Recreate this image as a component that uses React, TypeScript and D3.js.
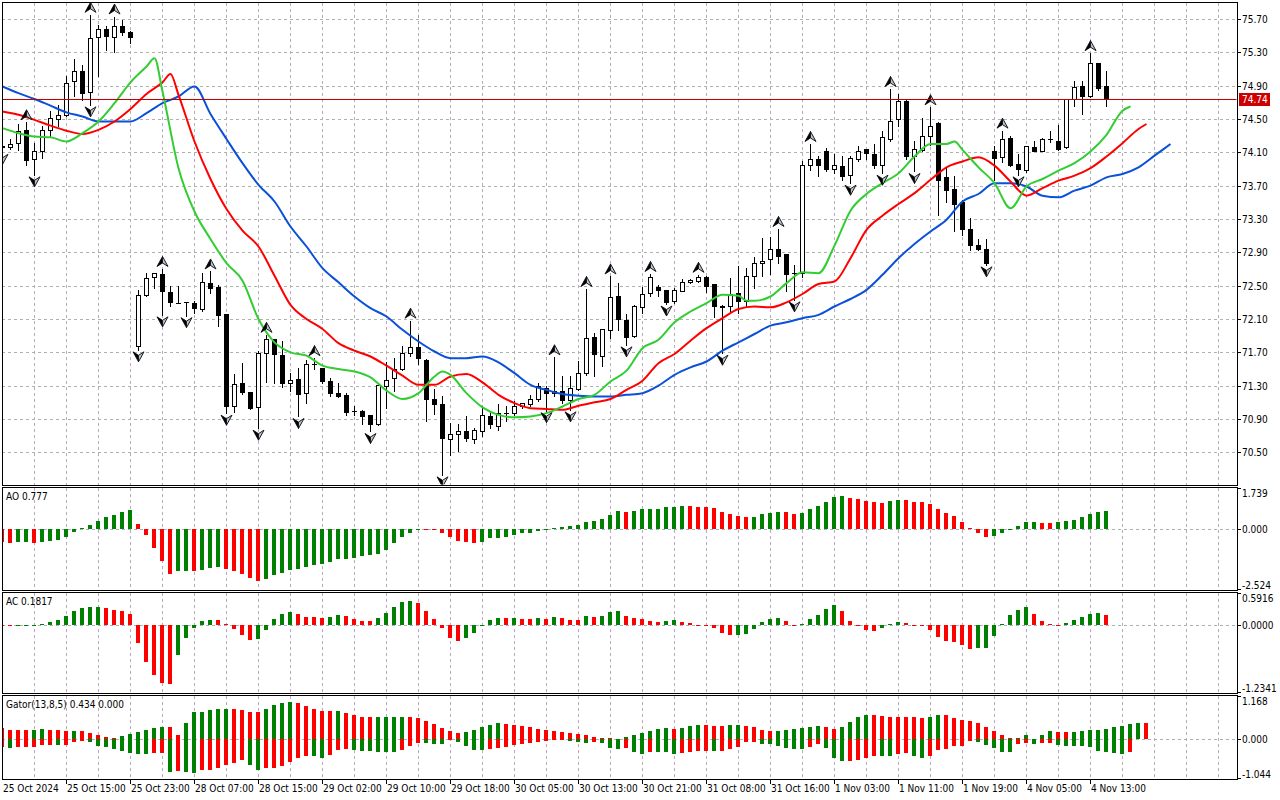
import React, { useEffect, useRef } from 'react';
import * as d3 from 'd3';

// hourly bars, 25 Oct 2024 07:00 .. 4 Nov 2024 15:00
const opens = [
  74.18, 74.16, 74.21, 74.37, 74.02, 74.11, 74.37, 74.50, 74.55, 74.96,
  75.08, 74.82, 75.48, 75.58, 75.48, 75.62, 75.54, 71.77, 72.39, 72.60,
  72.64, 72.42, 72.29, 72.30, 72.29, 72.22, 72.53, 72.48, 72.16, 71.05,
  71.33, 71.22, 71.04, 71.69, 71.86, 71.67, 71.33, 71.38, 71.21, 71.56,
  71.51, 71.36, 71.21, 71.19, 70.99, 70.99, 70.95, 70.84, 71.30, 71.39,
  71.50, 71.69, 71.76, 71.61, 71.14, 71.08, 70.66, 70.72, 70.75, 70.66,
  70.76, 70.93, 70.81, 70.97, 70.97, 71.06, 71.08, 71.14, 71.27, 71.21,
  71.23, 71.13, 71.26, 71.45, 71.88, 71.66, 71.97, 72.38, 72.09, 71.89,
  72.24, 72.41, 72.48, 72.45, 72.31, 72.44, 72.54, 72.56, 72.60, 72.52,
  72.26, 72.25, 72.41, 72.31, 72.62, 72.77, 72.82, 72.94, 72.88, 72.65,
  72.65, 73.95, 74.02, 74.11, 73.90, 73.93, 73.83, 74.02, 74.14, 74.08,
  73.95, 74.26, 74.50, 74.71, 74.06, 74.13, 74.30, 74.45, 73.80, 73.66,
  73.50, 73.18, 72.99, 72.94, 74.12, 74.04, 74.27, 73.96, 73.89, 74.16,
  74.12, 74.26, 74.24, 74.16, 74.74, 74.90, 74.77, 75.17, 74.90,
];
const highs = [
  74.22, 74.26, 74.44, 74.46, 74.21, 74.41, 74.59, 74.67, 75.01, 75.22,
  75.15, 75.75, 75.63, 75.62, 75.73, 75.69, 75.55, 72.45, 72.65, 72.65,
  72.70, 72.50, 72.50, 72.30, 72.31, 72.65, 72.67, 72.51, 72.16, 71.44,
  71.57, 71.22, 71.72, 71.91, 71.86, 71.83, 71.45, 71.51, 71.61, 71.63,
  71.51, 71.39, 71.33, 71.21, 71.05, 71.01, 70.95, 71.33, 71.58, 71.63,
  71.77, 72.08, 71.91, 71.62, 71.26, 71.17, 70.85, 70.84, 70.94, 70.79,
  71.06, 70.99, 71.08, 71.05, 71.11, 71.09, 71.19, 71.33, 71.30, 71.64,
  71.41, 71.41, 71.59, 72.46, 71.93, 71.98, 72.61, 72.53, 72.16, 72.27,
  72.48, 72.64, 72.51, 72.45, 72.47, 72.58, 72.58, 72.63, 72.61, 72.52,
  72.27, 72.59, 72.73, 72.71, 72.84, 73.07, 73.08, 73.18, 72.88, 72.75,
  74.00, 74.20, 74.05, 74.15, 74.08, 74.05, 74.06, 74.17, 74.14, 74.20,
  74.35, 74.86, 74.80, 74.74, 74.23, 74.51, 74.64, 74.46, 73.91, 73.81,
  73.53, 73.31, 73.06, 73.06, 74.17, 74.36, 74.29, 74.08, 74.18, 74.23,
  74.27, 74.36, 74.43, 74.74, 74.96, 74.96, 75.29, 75.17, 75.08,
];
const lows = [
  74.10, 74.14, 74.13, 73.95, 73.83, 74.03, 74.29, 74.41, 74.53, 74.77,
  74.73, 74.67, 75.02, 75.33, 75.30, 75.51, 75.41, 71.73, 72.37, 72.47,
  72.15, 72.25, 72.29, 72.14, 72.17, 72.20, 72.41, 72.01, 70.97, 70.98,
  71.20, 71.02, 70.79, 71.34, 71.33, 71.28, 71.23, 70.93, 71.09, 71.50,
  71.33, 71.17, 71.16, 70.95, 70.95, 70.84, 70.75, 70.83, 71.03, 71.23,
  71.49, 71.65, 71.56, 70.88, 70.96, 70.23, 70.47, 70.52, 70.63, 70.61,
  70.69, 70.79, 70.77, 70.88, 70.95, 71.03, 71.06, 71.11, 71.00, 71.17,
  71.09, 71.01, 71.25, 71.43, 71.42, 71.53, 71.87, 71.97, 71.79, 71.88,
  72.17, 72.37, 72.38, 72.28, 72.29, 72.43, 72.53, 72.54, 72.42, 72.12,
  71.69, 72.17, 72.17, 72.26, 72.47, 72.61, 72.64, 72.77, 72.43, 72.33,
  72.60, 73.89, 73.81, 73.87, 73.85, 73.77, 73.73, 74.00, 74.02, 73.91,
  73.85, 74.24, 74.41, 74.02, 73.87, 74.11, 74.19, 73.35, 73.50, 73.16,
  73.11, 72.93, 72.93, 72.75, 73.77, 73.98, 73.93, 73.83, 73.86, 74.11,
  74.11, 74.22, 74.13, 74.15, 74.65, 74.56, 74.76, 74.85, 74.65,
];
const closes = [
  74.16, 74.20, 74.35, 74.01, 74.11, 74.37, 74.51, 74.55, 74.93, 75.08,
  74.81, 75.47, 75.58, 75.50, 75.61, 75.54, 75.48, 72.39, 72.59, 72.65,
  72.43, 72.30, 72.29, 72.30, 72.23, 72.54, 72.47, 72.15, 71.06, 71.32,
  71.22, 71.03, 71.69, 71.86, 71.68, 71.33, 71.37, 71.20, 71.56, 71.56,
  71.35, 71.21, 71.18, 70.98, 70.99, 70.94, 70.84, 71.31, 71.37, 71.50,
  71.69, 71.76, 71.63, 71.14, 71.08, 70.67, 70.72, 70.75, 70.67, 70.77,
  70.95, 70.84, 70.97, 70.97, 71.05, 71.09, 71.14, 71.30, 71.21, 71.24,
  71.13, 71.27, 71.45, 71.87, 71.68, 71.98, 72.36, 72.10, 71.88, 72.25,
  72.40, 72.60, 72.45, 72.30, 72.45, 72.54, 72.57, 72.60, 72.50, 72.25,
  72.24, 72.40, 72.31, 72.62, 72.77, 72.80, 72.94, 72.86, 72.64, 72.65,
  73.95, 74.02, 73.95, 73.90, 73.95, 73.82, 74.03, 74.12, 74.09, 73.95,
  74.28, 74.48, 74.72, 74.05, 74.14, 74.30, 74.41, 73.77, 73.65, 73.48,
  73.18, 72.99, 72.94, 72.77, 74.03, 74.26, 73.95, 73.90, 74.17, 74.12,
  74.26, 74.26, 74.14, 74.74, 74.88, 74.78, 75.17, 74.87, 74.74,
];

// bars carrying a fractal arrow
const fractalUp = [3, 11, 14, 20, 26, 33, 39, 51, 69, 73, 76, 81, 87, 97, 101, 111, 116, 125, 136];
const fractalDown = [0, 4, 11, 17, 20, 23, 28, 32, 37, 46, 55, 68, 71, 78, 83, 90, 99, 106, 110, 114, 123, 127];

// alligator lines, [bar, price] (already shifted forward)
const jaw: [number, number][] = [
  [0, 74.89], [2, 74.81], [4, 74.74], [6, 74.66], [8, 74.58], [10, 74.53], [12, 74.47], [14, 74.47],
  [16, 74.47], [18, 74.57], [20, 74.69], [22, 74.77], [24, 74.89], [26, 74.56], [28, 74.26], [30, 73.97],
  [32, 73.71], [34, 73.51], [36, 73.21], [38, 72.97], [40, 72.71], [42, 72.54], [44, 72.37], [46, 72.23],
  [48, 72.13], [50, 71.97], [52, 71.83], [54, 71.71], [56, 71.63], [58, 71.63], [60, 71.65], [62, 71.58],
  [64, 71.45], [66, 71.31], [68, 71.25], [70, 71.20], [72, 71.18], [74, 71.17], [76, 71.17], [78, 71.19],
  [80, 71.21], [82, 71.30], [84, 71.43], [86, 71.52], [88, 71.59], [90, 71.72], [92, 71.82], [94, 71.92],
  [96, 72.02], [98, 72.06], [100, 72.11], [102, 72.15], [104, 72.25], [106, 72.34], [108, 72.45], [110, 72.63],
  [112, 72.83], [114, 73.00], [116, 73.15], [118, 73.29], [120, 73.51], [122, 73.60], [124, 73.73], [126, 73.73],
  [128, 73.69], [130, 73.58], [132, 73.56], [134, 73.64], [136, 73.70], [138, 73.80], [140, 73.84], [142, 73.92],
  [144, 74.06], [146, 74.20],
];
const teeth: [number, number][] = [
  [0, 74.59], [2, 74.55], [4, 74.49], [6, 74.42], [8, 74.36], [10, 74.32], [12, 74.37], [14, 74.47],
  [16, 74.62], [18, 74.80], [20, 74.94], [21, 75.04], [22, 74.79], [24, 74.23], [26, 73.78], [28, 73.42],
  [30, 73.16], [32, 72.97], [34, 72.62], [36, 72.27], [38, 72.10], [40, 71.98], [42, 71.81], [44, 71.72],
  [46, 71.65], [48, 71.54], [50, 71.42], [52, 71.31], [54, 71.31], [56, 71.41], [58, 71.44], [60, 71.34],
  [62, 71.19], [64, 71.09], [66, 71.03], [68, 71.02], [70, 71.01], [72, 71.06], [74, 71.10], [76, 71.14],
  [78, 71.25], [80, 71.36], [82, 71.57], [84, 71.68], [86, 71.84], [88, 71.99], [90, 72.11], [92, 72.22],
  [94, 72.25], [96, 72.24], [98, 72.30], [100, 72.40], [102, 72.52], [104, 72.55], [106, 72.83], [108, 73.17],
  [110, 73.34], [112, 73.48], [114, 73.61], [116, 73.77], [118, 73.92], [120, 73.99], [122, 74.04], [124, 73.94],
  [126, 73.75], [128, 73.58], [130, 73.67], [132, 73.76], [134, 73.82], [136, 73.91], [138, 74.05], [140, 74.21],
  [142, 74.38], [143, 74.44],
];
const lips: [number, number][] = [
  [0, 74.39], [2, 74.33], [4, 74.29], [6, 74.28], [8, 74.23], [10, 74.33], [12, 74.47], [14, 74.69],
  [16, 74.94], [18, 75.13], [19, 75.23], [20, 74.83], [22, 73.91], [24, 73.39], [26, 73.06], [28, 72.77],
  [30, 72.56], [32, 72.10], [34, 71.82], [36, 71.70], [38, 71.66], [40, 71.54], [42, 71.50], [44, 71.47],
  [46, 71.40], [48, 71.24], [50, 71.14], [52, 71.21], [54, 71.41], [55, 71.47], [56, 71.43], [58, 71.21],
  [60, 71.04], [62, 70.95], [64, 70.92], [66, 70.93], [68, 70.97], [70, 71.05], [72, 71.14], [74, 71.19],
  [76, 71.35], [78, 71.48], [80, 71.75], [82, 71.85], [84, 72.06], [86, 72.19], [88, 72.29], [90, 72.39],
  [92, 72.38], [93, 72.32], [94, 72.32], [96, 72.37], [98, 72.53], [100, 72.66], [102, 72.65], [104, 72.98],
  [106, 73.40], [108, 73.60], [110, 73.73], [112, 73.85], [114, 74.05], [116, 74.20], [118, 74.20], [119, 74.23],
  [120, 74.13], [122, 73.92], [124, 73.73], [126, 73.43], [128, 73.69], [130, 73.78], [132, 73.88], [134, 73.97],
  [136, 74.11], [138, 74.31], [140, 74.60], [141, 74.65],
];

const aoValues = [
  -0.56, -0.58, -0.53, -0.52, -0.58, -0.53, -0.49, -0.44, -0.32, -0.10,
  0.06, 0.18, 0.35, 0.52, 0.62, 0.73, 0.82, 0.22, -0.24, -0.79,
  -1.35, -1.88, -1.76, -1.75, -1.77, -1.72, -1.65, -1.60, -1.69, -1.77,
  -1.88, -2.05, -2.18, -2.11, -1.94, -1.84, -1.73, -1.66, -1.60, -1.53,
  -1.46, -1.38, -1.27, -1.24, -1.20, -1.15, -1.08, -1.03, -0.89, -0.60,
  -0.35, -0.14, -0.01, -0.015, -0.02, -0.14, -0.31, -0.49, -0.56, -0.60,
  -0.52, -0.39, -0.37, -0.31, -0.24, -0.18, -0.14, -0.06, -0.01, 0.04,
  0.08, 0.13, 0.17, 0.31, 0.35, 0.44, 0.59, 0.77, 0.73, 0.775,
  0.84, 0.845, 0.86, 0.94, 0.945, 0.98, 0.975, 0.94, 0.935, 0.90,
  0.73, 0.65, 0.56, 0.52, 0.525, 0.65, 0.70, 0.73, 0.725, 0.65,
  0.70, 0.86, 0.98, 1.15, 1.36, 1.41, 1.32, 1.28, 1.20, 1.15,
  1.11, 1.20, 1.24, 1.235, 1.15, 1.145, 1.07, 0.86, 0.69, 0.56,
  0.31, 0.04, -0.14, -0.31, -0.27, -0.14, -0.01, 0.14, 0.31, 0.315,
  0.27, 0.265, 0.31, 0.35, 0.39, 0.52, 0.65, 0.72, 0.777,
];
const acValues = [
  -0.01, -0.012, -0.008, -0.006, -0.004, 0.02, 0.05, 0.09, 0.17, 0.26,
  0.32, 0.33, 0.335, 0.32, 0.28, 0.26, 0.20, -0.33, -0.68, -0.92,
  -1.06, -1.08, -0.55, -0.23, -0.05, 0.07, 0.10, 0.09, 0.02, -0.08,
  -0.18, -0.28, -0.25, -0.09, 0.12, 0.20, 0.24, 0.21, 0.15, 0.14,
  0.135, 0.155, 0.18, 0.17, 0.105, 0.08, 0.075, 0.135, 0.22, 0.34,
  0.43, 0.45, 0.41, 0.26, 0.12, -0.06, -0.23, -0.30, -0.23, -0.15,
  -0.01, 0.10, 0.135, 0.13, 0.135, 0.115, 0.11, 0.135, 0.115, 0.155,
  0.135, 0.10, 0.095, 0.17, 0.155, 0.17, 0.245, 0.265, 0.17, 0.135,
  0.115, 0.08, 0.06, 0.08, 0.085, 0.06, 0.045, 0.005, -0.002, -0.05,
  -0.14, -0.18, -0.178, -0.16, -0.065, 0.06, 0.12, 0.135, 0.08, 0.01,
  0.015, 0.12, 0.19, 0.30, 0.375, 0.265, 0.08, -0.025, -0.085, -0.105,
  -0.06, 0.025, 0.06, 0.045, -0.005, -0.025, -0.085, -0.215, -0.29, -0.305,
  -0.36, -0.435, -0.43, -0.415, -0.195, 0.025, 0.19, 0.28, 0.34, 0.21,
  0.08, 0.025, 0.002, 0.045, 0.10, 0.155, 0.21, 0.225, 0.1817,
];
const gatorUpper = [
  0.31, 0.25, 0.248, 0.245, 0.25, 0.28, 0.25, 0.248, 0.222, 0.226,
  0.224, 0.18, 0.117, 0.063, 0.027, 0.08, 0.135, 0.20, 0.25, 0.305,
  0.325, 0.32, 0.117, 0.43, 0.74, 0.745, 0.79, 0.81, 0.82, 0.815,
  0.79, 0.74, 0.735, 0.82, 0.92, 0.97, 1.007, 0.97, 0.90, 0.83,
  0.765, 0.76, 0.765, 0.72, 0.66, 0.60, 0.59, 0.595, 0.60, 0.602,
  0.605, 0.60, 0.575, 0.495, 0.41, 0.305, 0.225, 0.17, 0.20, 0.25,
  0.33, 0.385, 0.44, 0.41, 0.385, 0.36, 0.33, 0.28, 0.25, 0.225,
  0.20, 0.17, 0.145, 0.117, 0.063, 0.036, 0.027, 0.005, 0.063, 0.117,
  0.17, 0.225, 0.28, 0.305, 0.28, 0.305, 0.36, 0.385, 0.383, 0.36,
  0.358, 0.385, 0.387, 0.36, 0.33, 0.25, 0.225, 0.226, 0.25, 0.28,
  0.305, 0.33, 0.36, 0.33, 0.28, 0.33, 0.467, 0.60, 0.655, 0.65,
  0.63, 0.60, 0.598, 0.597, 0.596, 0.575, 0.60, 0.655, 0.65, 0.575,
  0.52, 0.495, 0.44, 0.33, 0.225, 0.117, 0.036, 0.04, 0.117, 0.004,
  0.117, 0.225, 0.20, 0.198, 0.202, 0.225, 0.25, 0.252, 0.28, 0.32,
  0.35, 0.42, 0.44, 0.434,
];
const gatorLower = [
  -0.21, -0.225, -0.207, -0.205, -0.204, -0.153, -0.152, -0.155, -0.15, -0.07,
  -0.04, -0.072, -0.18, -0.207, -0.27, -0.315, -0.37, -0.387, -0.405, -0.378,
  -0.36, -0.88, -0.855, -0.88, -0.90, -0.84, -0.83, -0.78, -0.69, -0.63,
  -0.57, -0.69, -0.84, -0.78, -0.765, -0.73, -0.62, -0.495, -0.45, -0.455,
  -0.495, -0.425, -0.30, -0.27, -0.297, -0.315, -0.316, -0.333, -0.335, -0.34,
  -0.29, -0.18, -0.10, -0.105, -0.126, -0.128, -0.005, -0.072, -0.18, -0.29,
  -0.292, -0.26, -0.234, -0.207, -0.153, -0.126, -0.10, -0.072, -0.045, -0.004,
  -0.003, -0.045, -0.072, -0.10, -0.072, -0.10, -0.234, -0.26, -0.234, -0.34,
  -0.395, -0.34, -0.342, -0.345, -0.395, -0.37, -0.34, -0.315, -0.313, -0.316,
  -0.31, -0.26, -0.207, -0.072, -0.07, -0.126, -0.128, -0.18, -0.234, -0.26,
  -0.262, -0.207, -0.126, -0.234, -0.50, -0.585, -0.584, -0.56, -0.50, -0.45,
  -0.452, -0.455, -0.395, -0.37, -0.45, -0.50, -0.45, -0.29, -0.26, -0.18,
  -0.178, -0.045, -0.072, -0.153, -0.234, -0.34, -0.342, -0.126, -0.10, -0.126,
  -0.10, -0.098, -0.153, -0.18, -0.182, -0.183, -0.21, -0.315, -0.34, -0.36,
  -0.40, -0.34,
];

const priceTicks = [75.7, 75.3, 74.9, 74.5, 74.1, 73.7, 73.3, 72.9, 72.5, 72.1, 71.7, 71.3, 70.9, 70.5];
const lastPrice = 74.74;
const aoTicks = [1.739, 0, -2.524];
const acTicks = [0.5916, 0, -1.2341];
const gatorTicks = [1.168, 0, -1.044];
const timeLabels = [
  '25 Oct 2024', '25 Oct 15:00', '25 Oct 23:00', '28 Oct 07:00', '28 Oct 15:00', '29 Oct 02:00',
  '29 Oct 10:00', '29 Oct 18:00', '30 Oct 05:00', '30 Oct 13:00', '30 Oct 21:00', '31 Oct 08:00',
  '31 Oct 16:00', '1 Nov 03:00', '1 Nov 11:00', '1 Nov 19:00', '4 Nov 05:00', '4 Nov 13:00',
];

const W = 1280;
const H = 800;
const LEFT = 2;
const RIGHT = 1237;
const FONT = '"DejaVu Sans Condensed", "Liberation Sans Narrow", "DejaVu Sans", sans-serif';
const UP = '#008000';
const DOWN = '#ff0000';

const App: React.FC = () => {
  const ref = useRef<SVGSVGElement | null>(null);

  useEffect(() => {
    if (!ref.current) return;
    const svg = d3.select(ref.current);
    svg.selectAll('*').remove();

    const x = d3.scaleLinear().domain([0, 1]).range([2, 10]);
    const px = (i: number) => Math.round(x(i));
    const yMain = d3.scaleLinear().domain([70.5, 75.7]).range([452.33, 19]);
    const yAO = d3.scaleLinear().domain([-2.524, 1.739]).range([589, 488]);
    const yAC = d3.scaleLinear().domain([-1.2341, 0.5916]).range([692, 593]);
    const yGator = d3.scaleLinear().domain([-1.044, 1.168]).range([778, 696]);

    const panes = [
      { id: 'main', top: 2, bottom: 485 },
      { id: 'ao', top: 487, bottom: 590 },
      { id: 'ac', top: 592, bottom: 693 },
      { id: 'gator', top: 695, bottom: 779 },
    ];

    svg.append('rect').attr('width', W).attr('height', H).attr('fill', '#fff');

    const defs = svg.append('defs');
    panes.forEach(p => {
      defs.append('clipPath').attr('id', `clip-${p.id}`)
        .append('rect')
        .attr('x', LEFT + 0.5).attr('y', p.top + 0.5)
        .attr('width', RIGHT - LEFT - 1).attr('height', p.bottom - p.top - 1);
    });

    // vertical grid in every pane
    const gridBars = d3.range(4, 160, 4).filter(i => x(i) < RIGHT - 2);
    panes.forEach(p => {
      svg.append('g').selectAll('line').data(gridBars).join('line')
        .attr('x1', i => px(i) + 0.5).attr('x2', i => px(i) + 0.5)
        .attr('y1', p.top + 1).attr('y2', p.bottom)
        .attr('stroke', '#bcaabc').attr('stroke-dasharray', '3,3');
    });

    // horizontal grid of the price pane
    svg.append('g').selectAll('line').data(priceTicks).join('line')
      .attr('x1', LEFT).attr('x2', RIGHT)
      .attr('y1', d => Math.round(yMain(d)) + 0.5).attr('y2', d => Math.round(yMain(d)) + 0.5)
      .attr('stroke', '#aab6aa').attr('stroke-dasharray', '3,3');

    // zero lines of the indicator panes
    [yAO, yAC, yGator].forEach(s => {
      svg.append('line')
        .attr('x1', LEFT).attr('x2', RIGHT)
        .attr('y1', Math.round(s(0)) + 0.5).attr('y2', Math.round(s(0)) + 0.5)
        .attr('stroke', '#aab0b8').attr('stroke-dasharray', '3,3');
    });

    // candles
    const main = svg.append('g').attr('clip-path', 'url(#clip-main)');
    const bars = d3.range(opens.length);
    const candle = main.append('g').attr('shape-rendering', 'crispEdges')
      .selectAll('g').data(bars).join('g');
    candle.append('line')
      .attr('x1', i => px(i) + 0.5).attr('x2', i => px(i) + 0.5)
      .attr('y1', i => Math.round(yMain(highs[i]))).attr('y2', i => Math.round(yMain(lows[i])) + 1)
      .attr('stroke', '#000');
    candle.each(function (i) {
      const top = Math.round(yMain(Math.max(opens[i], closes[i])));
      const bot = Math.round(yMain(Math.min(opens[i], closes[i])));
      const g = d3.select(this);
      if (bot - top < 1) {
        g.append('line')
          .attr('x1', px(i) - 2).attr('x2', px(i) + 3)
          .attr('y1', top + 0.5).attr('y2', top + 0.5)
          .attr('stroke', '#000');
      } else {
        g.append('rect')
          .attr('x', px(i) - 1.5).attr('y', top + 0.5)
          .attr('width', 4).attr('height', bot - top)
          .attr('fill', closes[i] >= opens[i] ? '#fff' : '#000')
          .attr('stroke', '#000');
      }
    });

    // alligator
    const line = d3.line<[number, number]>()
      .x(d => x(d[0]) + 0.5)
      .y(d => yMain(d[1]))
      .curve(d3.curveMonotoneX);
    [
      { data: jaw, color: '#0a50d8' },
      { data: teeth, color: '#ff0000' },
      { data: lips, color: '#32cd32' },
    ].forEach(l => {
      main.append('path').datum(l.data)
        .attr('d', line)
        .attr('fill', 'none')
        .attr('stroke', l.color)
        .attr('stroke-width', 2)
        .attr('stroke-linejoin', 'round');
    });

    // fractal arrows
    const arrow = (cx: number, cy: number, dir: number) => {
      const tip = cy - 5 * dir;
      const base = cy + 5 * dir;
      const notch = cy + 1.5 * dir;
      const g = main.append('g');
      g.append('path')
        .attr('d', `M${cx},${tip}L${cx - 5.5},${base}L${cx},${notch}Z`)
        .attr('fill', '#000').attr('stroke', '#000').attr('stroke-width', 0.8);
      g.append('path')
        .attr('d', `M${cx},${tip}L${cx + 5.5},${base}L${cx},${notch}Z`)
        .attr('fill', '#b8c4d8').attr('stroke', '#1a1a1a').attr('stroke-width', 1);
    };
    fractalUp.forEach(i => arrow(px(i) + 0.5, yMain(highs[i]) - 7.5, 1));
    fractalDown.forEach(i => arrow(px(i) + 0.5, yMain(lows[i]) + 7, -1));

    // last price line
    const yLast = Math.round(yMain(lastPrice)) + 0.5;
    main.append('line')
      .attr('x1', LEFT).attr('x2', RIGHT).attr('y1', yLast).attr('y2', yLast)
      .attr('stroke', '#c00000');

    // indicator histograms
    const histogram = (clip: string, values: number[], y: d3.ScaleLinear<number, number>, signed: boolean) => {
      let color = DOWN;
      const colors = values.map((v, i) => {
        if (i > 0) {
          const a = signed ? v : Math.abs(v);
          const b = signed ? values[i - 1] : Math.abs(values[i - 1]);
          if (a > b) color = UP;
          else if (a < b) color = DOWN;
        }
        return color;
      });
      svg.append('g').attr('clip-path', `url(#clip-${clip})`).attr('shape-rendering', 'crispEdges')
        .selectAll('rect').data(values).join('rect')
        .attr('x', (_, i) => px(i) - 2)
        .attr('width', 4)
        .attr('y', v => Math.min(y(v), y(0)))
        .attr('height', v => Math.max(1, Math.abs(y(v) - y(0))))
        .attr('fill', (_, i) => colors[i]);
    };
    histogram('ao', aoValues, yAO, true);
    histogram('ac', acValues, yAC, true);
    histogram('gator', gatorUpper, yGator, false);
    histogram('gator', gatorLower, yGator, false);

    // pane frames
    panes.forEach(p => {
      svg.append('rect')
        .attr('x', LEFT + 0.5).attr('y', p.top + 0.5)
        .attr('width', RIGHT - LEFT).attr('height', p.bottom - p.top)
        .attr('fill', 'none').attr('stroke', '#000');
    });

    const text = (tx: number, ty: number, s: string, color = '#000') =>
      svg.append('text')
        .attr('x', tx).attr('y', ty)
        .attr('dominant-baseline', 'central')
        .attr('font-family', FONT).attr('font-size', 10)
        .attr('fill', color)
        .text(s);

    // price axis
    priceTicks.forEach(p => {
      const ty = Math.round(yMain(p)) + 0.5;
      svg.append('line').attr('x1', RIGHT).attr('x2', RIGHT + 4).attr('y1', ty).attr('y2', ty).attr('stroke', '#000');
      text(RIGHT + 5, ty, p.toFixed(2));
    });
    svg.append('rect')
      .attr('x', RIGHT + 2).attr('y', yLast - 6.5)
      .attr('width', 31).attr('height', 13)
      .attr('fill', '#cc0000');
    text(RIGHT + 5, yLast, lastPrice.toFixed(2), '#fff');

    // indicator axes
    const sideAxis = (ticks: number[], y: d3.ScaleLinear<number, number>, digits: number) => {
      ticks.forEach((t, k) => {
        const ty = Math.round(y(t)) + 0.5;
        svg.append('line').attr('x1', RIGHT).attr('x2', RIGHT + 4).attr('y1', ty).attr('y2', ty).attr('stroke', '#000');
        const shift = k === 0 ? 5 : k === ticks.length - 1 ? -4.5 : 0;
        text(RIGHT + 5, ty + shift, t.toFixed(digits));
      });
    };
    sideAxis(aoTicks, yAO, 3);
    sideAxis(acTicks, yAC, 4);
    sideAxis(gatorTicks, yGator, 3);

    // indicator captions
    text(6, 496, `AO ${aoValues[aoValues.length - 1].toFixed(3)}`);
    text(6, 601, `AC ${acValues[acValues.length - 1].toFixed(4)}`);
    text(6, 704, `Gator(13,8,5) ${gatorUpper[gatorUpper.length - 1].toFixed(3)} 0.000`);

    // time axis
    timeLabels.forEach((s, k) => {
      const tx = px(k * 8);
      if (k > 0) {
        svg.append('line').attr('x1', tx + 0.5).attr('x2', tx + 0.5).attr('y1', 779).attr('y2', 784).attr('stroke', '#000');
      }
      text(tx + 1, 788, s);
    });
  }, []);

  return (
    <div style={{ position: 'absolute', left: 0, top: 0 }}>
      <svg ref={ref} width={W} height={H} style={{ display: 'block' }} />
    </div>
  );
};

export default App;
